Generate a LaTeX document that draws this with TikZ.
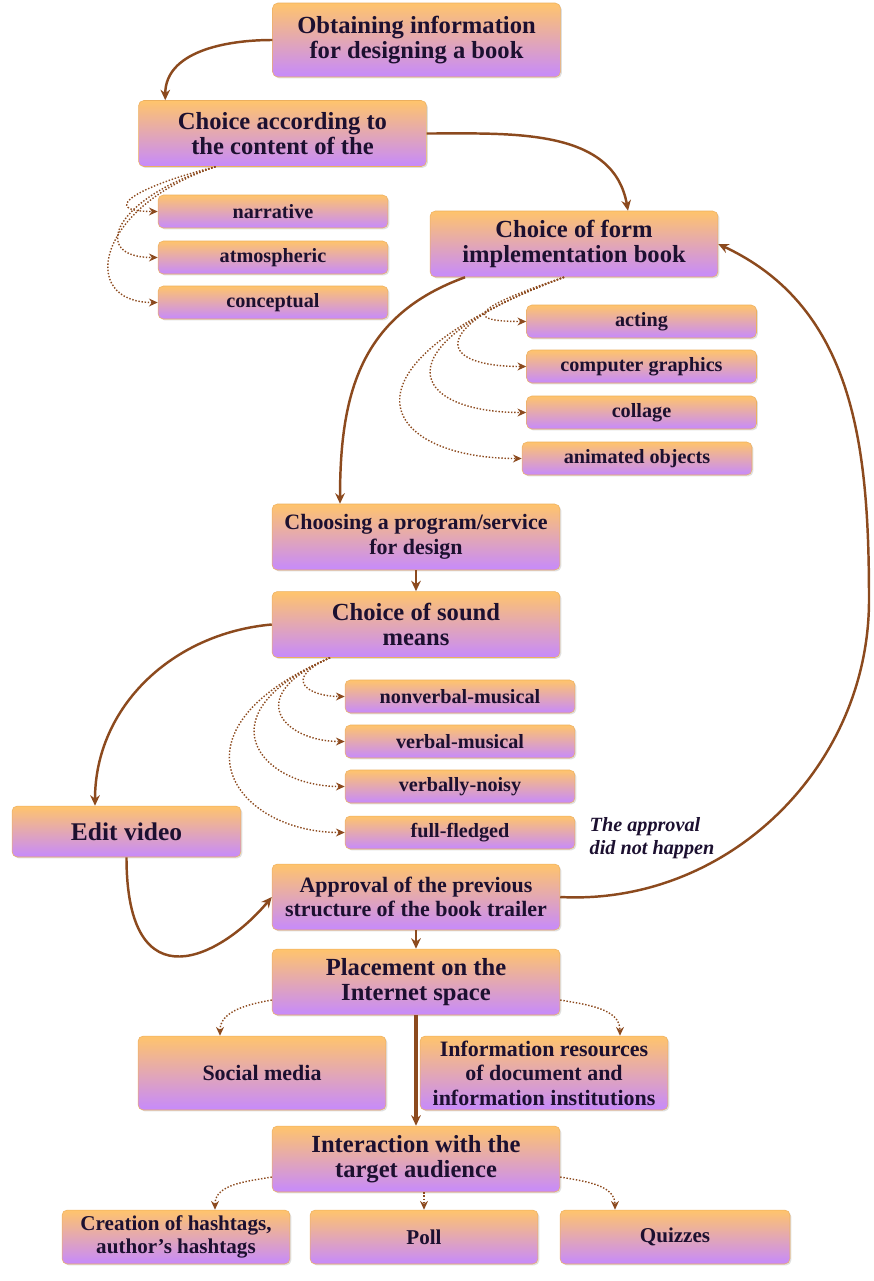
\documentclass[tikz,border=0pt]{standalone}
\usepackage{fontspec}
\setmainfont{Liberation Serif}
\usepackage{xcolor}
\usepackage{tikz}
\usetikzlibrary{shadows, arrows.meta}

\definecolor{boxtop}{RGB}{255,196,108}
\definecolor{boxbot}{RGB}{198,138,252}
\definecolor{brn}{RGB}{140,74,30}
\definecolor{ink}{RGB}{28,16,48}

\begin{document}
\begin{tikzpicture}[x=0.02cm, y=-0.02cm,
    box/.style={draw=boxtop!70!brown, line width=0.3pt, rounded corners=3pt, top color=boxtop, bottom color=boxbot,
                align=center, inner sep=2pt, text=ink,
                drop shadow={opacity=0.25, shadow xshift=0.8pt, shadow yshift=-0.8pt}},
    big/.style={box, minimum width=5.76cm, minimum height=1.32cm, font=\bfseries\fontsize{14}{14.5}\selectfont},
    mid/.style={box, minimum width=5.76cm, minimum height=1.32cm, font=\bfseries\fontsize{12.5}{14}\selectfont},
    leaf/.style={box, minimum width=4.6cm, minimum height=0.66cm, font=\bfseries\fontsize{11.5}{13}\selectfont},
    wide/.style={box, minimum width=4.96cm, minimum height=1.48cm, font=\bfseries\fontsize{12.5}{14}\selectfont},
    tail/.style={box, minimum width=4.56cm, minimum height=1.08cm, font=\bfseries\fontsize{12}{13.5}\selectfont},
    flow/.style={draw=brn, line width=1.4pt, -{Stealth[length=6pt, width=5.5pt]}},
    branch/.style={draw=brn, line width=0.8pt, densely dotted, -{Stealth[length=5pt, width=4.5pt]}}]

      \useasboundingbox (0,0) rectangle (873,1281);

      \node[big, minimum height=1.48cm]   (OI) at (416.5,   40)   {Obtaining information \\ for designing a book};
      \node[big]                          (CC) at (282.5,  133.5) {Choice according to \\ the content of the};
      \node[leaf]                         (NA) at (273,    211.5) {narrative};
      \node[leaf]                         (AT) at (273,    257.5) {atmospheric};
      \node[leaf]                         (CO) at (273,    302.5) {conceptual};

      \node[big]                          (CF) at (574,    244)   {Choice of form \\ implementation book};
      \node[leaf]                         (AC) at (641.5,  321.5) {acting};
      \node[leaf]                         (CG) at (641.5,  366.5) {computer graphics};
      \node[leaf]                         (CL) at (641.5,  412.5) {collage};
      \node[leaf]                         (AO) at (637,    458.5) {animated objects};

      \node[mid]                          (PS) at (416,    537)   {Choosing a program/service \\ for design};
      \node[big]                          (CS) at (416,    624.5) {Choice of sound \\ means};
      \node[leaf]                         (NM) at (460,    696.5) {nonverbal-musical};
      \node[leaf]                         (VM) at (460,    741.5) {verbal-musical};
      \node[leaf]                         (VN) at (460,    786.5) {verbally-noisy};
      \node[leaf]                         (FF) at (460,    832.5) {full-fledged};

      \node[box, minimum width=4.58cm, minimum height=1.02cm, font=\bfseries\fontsize{14.5}{16}\selectfont]
                                          (EV) at (126.5,  831.5) {Edit video};
      \node[mid]                          (AP) at (416,    897)   {Approval of the previous \\ structure of the book trailer};
      \node[align=left, text=ink, font=\bfseries\itshape\fontsize{11.5}{13}\selectfont]
                                          (NH) at (652,    838)   {The approval \\ did not happen};
      \coordinate                         (RB) at (869,    600);

      \node[big]                          (PI) at (416,    982)   {Placement on the \\ Internet space};
      \node[wide]                         (SM) at (262,   1073)   {Social media};
      \node[wide]                         (IR) at (544,   1073)   {Information resources \\ of document and \\ information institutions};

      \node[big]                          (IA) at (416,   1159)   {Interaction with the \\ target audience};
      \node[tail]                         (HT) at (176,   1237)   {Creation of hashtags, \\ author's hashtags};
      \node[tail]                         (PO) at (424,   1237)   {Poll};
      \node[tail, minimum width=4.6cm]    (QZ) at (675,   1237)   {Quizzes};

      \draw[flow] (OI.west) to[out=180, in=90] ([xshift=0.54cm]CC.north west);
      \draw[flow] (CC.east) to[out=0, in=100] ([xshift=1.08cm]CF.north);
      \draw[flow] ([xshift=-2.18cm]CF.south) to[out=200, in=90, looseness=1.1] ([xshift=-1.52cm]PS.north);
      \draw[flow] (PS.south) -- (CS.north);
      \draw[flow] (CS.west) to[out=185, in=90] ([xshift=-0.63cm]EV.north);
      \draw[flow] (EV.south) .. controls +(0,150) and +(-50,60) .. (AP.west);
      \draw[flow] (AP.east) to[out=-3, in=-90] (RB) to[out=90, in=-25] (CF.east);
      \draw[flow] (AP.south) -- (PI.north);
      \draw[flow, line width=2pt] (PI.south) -- (IA.north);

      \draw[branch] ([xshift=-1.34cm]CC.south) .. controls +(-80,20)  and +(-60,0) .. (NA.west);
      \draw[branch] ([xshift=-1.34cm]CC.south) .. controls +(-100,30) and +(-70,0) .. (AT.west);
      \draw[branch] ([xshift=-1.34cm]CC.south) .. controls +(-120,40) and +(-80,0) .. (CO.west);

      \draw[branch] ([xshift=-0.2cm]CF.south) .. controls +(-90,30)  and +(-65,0)  .. (AC.west);
      \draw[branch] ([xshift=-0.2cm]CF.south) .. controls +(-140,50) and +(-90,0)  .. (CG.west);
      \draw[branch] ([xshift=-0.2cm]CF.south) .. controls +(-190,70) and +(-115,0) .. (CL.west);
      \draw[branch] ([xshift=-0.2cm]CF.south) .. controls +(-240,90) and +(-140,0) .. (AO.west);

      \draw[branch] ([xshift=-1.72cm]CS.south) .. controls +(-50,22)  and +(-35,0)  .. (NM.west);
      \draw[branch] ([xshift=-1.72cm]CS.south) .. controls +(-90,39)  and +(-60,0)  .. (VM.west);
      \draw[branch] ([xshift=-1.72cm]CS.south) .. controls +(-130,56) and +(-85,0)  .. (VN.west);
      \draw[branch] ([xshift=-1.72cm]CS.south) .. controls +(-170,73) and +(-110,0) .. (FF.west);

      \draw[branch] ([yshift=-0.36cm]PI.west) to[out=190, in=90] ([xshift=-0.84cm]SM.north);
      \draw[branch] ([yshift=-0.36cm]PI.east) to[out=-10, in=90] ([xshift=1.52cm]IR.north);

      \draw[branch] ([yshift=-0.36cm]IA.west) to[out=190, in=90] ([xshift=0.78cm]HT.north);
      \draw[branch] (IA.south -| PO.north) -- (PO.north);
      \draw[branch] ([yshift=-0.36cm]IA.east) to[out=-10, in=90] ([xshift=-1.2cm]QZ.north);
    \end{tikzpicture}
\end{document}
